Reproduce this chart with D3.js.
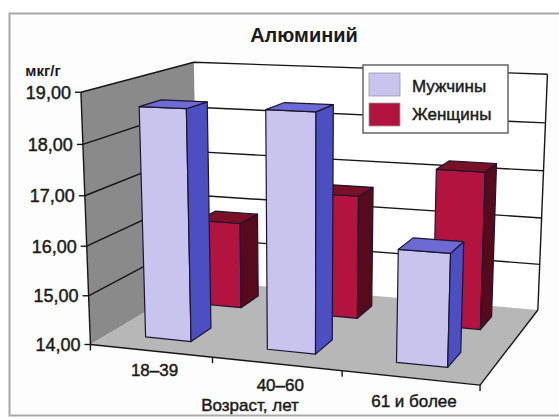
<!DOCTYPE html>
<html>
<head>
<meta charset="utf-8">
<script src="https://cdn.jsdelivr.net/npm/d3@7"></script>
<style>
  html, body { margin: 0; padding: 0; background: #ffffff; }
  svg { display: block; }
  text { font-family: "Liberation Sans", Arial, sans-serif; fill: #1a1a1a; }
  text.lbl { stroke: #1a1a1a; stroke-width: 0.45px; }
</style>
</head>
<body>
<svg id="chart" width="559" height="419"></svg>
<script>
// ---- data ----
const categories = ["18–39", "40–60", "61 и более"];
const seriesNames = ["Мужчины", "Женщины"];
const menValues = [18.65, 18.7, 16.2];
const womenValues = [15.85, 16.6, 17.25];
const valueTicks = [14, 15, 16, 17, 18, 19];
const tickLabels = ["14,00", "15,00", "16,00", "17,00", "18,00", "19,00"];
const titleText = "Алюминий";
const unitText = "мкг/г";
const axisTitleText = "Возраст, лет";

// ---- colours ----
const palette = {
  "Мужчины": { front: "#c9c4ee", side: "#4b4fc2", top: "#6d6bd3" },
  "Женщины": { front: "#b3133f", side: "#560a1c", top: "#7a1026" }
};

// ---- 3D box -> screen perspective ----
// box coordinates: u along categories, v along values, w along depth (0 = front)
const calib = [
  [0, 0, 0, 92, 342], [0, 1, 0, 80, 93], [1, 0, 0, 482, 388],
  [0, 0, 1, 197, 285], [0, 1, 1, 195, 60], [1, 0, 1, 538, 306],
  [1, 1, 1, 547, 76], [1 / 3, 0, 0, 212, 356], [2 / 3, 0, 0, 340, 371]
];

function solveProjection(pts) {
  const A = [], b = [];
  pts.forEach(([X, Y, Z, x, y]) => {
    A.push([X, Y, Z, 1, 0, 0, 0, 0, -x * X, -x * Y, -x * Z]); b.push(x);
    A.push([0, 0, 0, 0, X, Y, Z, 1, -y * X, -y * Y, -y * Z]); b.push(y);
  });
  const n = 11;
  const M = Array.from({ length: n }, () => new Array(n + 1).fill(0));
  for (let r = 0; r < A.length; r++) {
    for (let i = 0; i < n; i++) {
      for (let j = 0; j < n; j++) M[i][j] += A[r][i] * A[r][j];
      M[i][n] += A[r][i] * b[r];
    }
  }
  for (let c = 0; c < n; c++) {
    let piv = c;
    for (let r = c + 1; r < n; r++) if (Math.abs(M[r][c]) > Math.abs(M[piv][c])) piv = r;
    [M[c], M[piv]] = [M[piv], M[c]];
    for (let r = 0; r < n; r++) {
      if (r === c) continue;
      const f = M[r][c] / M[c][c];
      for (let k = c; k <= n; k++) M[r][k] -= f * M[c][k];
    }
  }
  return M.map((row, i) => row[n] / row[i]);
}
const P = solveProjection(calib);
function project(u, v, w) {
  const d = P[8] * u + P[9] * v + P[10] * w + 1;
  return [(P[0] * u + P[1] * v + P[2] * w + P[3]) / d,
          (P[4] * u + P[5] * v + P[6] * w + P[7]) / d];
}

// ---- scales ----
const gap = 0.62;
const xBand = d3.scaleBand().domain(categories).range([0, 1])
  .paddingInner(gap).paddingOuter(gap / 2);
const xStep = d3.scaleBand().domain(categories).range([0, 1]);
const zBand = d3.scaleBand().domain(seriesNames).range([0, 1])
  .paddingInner(gap).paddingOuter(gap / 2);
const yScale = d3.scaleLinear().domain([14, 19]).range([0, 1]);

const svg = d3.select("#chart");
const line = d3.line();
const poly = pts => line(pts.map(p => project(...p))) + "Z";

// chart frame
svg.append("rect").attr("x", 9.5).attr("y", 13.5).attr("width", 560).attr("height", 402)
  .attr("fill", "#fdfdfd").attr("stroke", "#a8a8a8").attr("stroke-width", 2);

// walls and floor
const g = svg.append("g");
g.append("path").attr("d", poly([[0, 0, 1], [1, 0, 1], [1, 1, 1], [0, 1, 1]]))
  .attr("fill", "#ffffff");
g.append("path").attr("d", poly([[0, 0, 0], [0, 1, 0], [0, 1, 1], [0, 0, 1]]))
  .attr("fill", "#8a8a8a");
g.append("path").attr("d", poly([[0, 0, 0], [1, 0, 0], [1, 0, 1], [0, 0, 1]]))
  .attr("fill", "#b7b7b7");

// gridlines on left and back walls
valueTicks.slice(1).forEach(t => {
  const v = yScale(t);
  g.append("path").attr("d", line([project(0, v, 0), project(0, v, 1), project(1, v, 1)]))
    .attr("fill", "none").attr("stroke", "#161616").attr("stroke-width", 1.4);
});

// box edges
[[[0, 0, 0], [0, 1, 0]], [[0, 0, 0], [1, 0, 0]], [[1, 0, 0], [1, 0, 1]],
 [[1, 0, 1], [1, 1, 1]]].forEach(([a, b]) => {
  g.append("path").attr("d", line([project(...a), project(...b)]))
    .attr("stroke", "#161616").attr("stroke-width", 1.4);
});

// value axis ticks and labels
valueTicks.forEach((t, i) => {
  const [x, y] = project(0, yScale(t), 0);
  g.append("line").attr("x1", x - 6).attr("x2", x).attr("y1", y).attr("y2", y)
    .attr("stroke", "#161616").attr("stroke-width", 1.4);
  g.append("text").attr("class", "lbl").attr("x", x - 10).attr("y", y).attr("dy", "0.36em")
    .attr("text-anchor", "end").attr("font-size", 18).text(tickLabels[i]);
});

// category ticks
d3.range(categories.length + 1).forEach(i => {
  const [x, y] = project(i / categories.length, 0, 0);
  g.append("line").attr("x1", x).attr("x2", x).attr("y1", y).attr("y2", y + 6)
    .attr("stroke", "#161616").attr("stroke-width", 1.4);
});

// category labels
categories.forEach((c, i) => {
  const [x, y] = project(xStep(c) + xStep.bandwidth() / 2, 0, 0);
  g.append("text").attr("class", "lbl").attr("x", x + 4).attr("y", y + 25 + 2 * i)
    .attr("text-anchor", "middle").attr("font-size", 17).text(c);
});

// bars: back row first, left to right
const rows = [
  { name: "Женщины", values: womenValues },
  { name: "Мужчины", values: menValues }
];
const bars = g.append("g");
rows.forEach(row => {
  const col = palette[row.name];
  const w0 = zBand(row.name), w1 = w0 + zBand.bandwidth();
  categories.forEach((c, i) => {
    const u0 = xBand(c), u1 = u0 + xBand.bandwidth();
    const v0 = 0, v1 = yScale(row.values[i]);
    const faces = [
      { pts: [[u0, v0, w0], [u1, v0, w0], [u1, v1, w0], [u0, v1, w0]], fill: col.front },
      { pts: [[u1, v0, w0], [u1, v0, w1], [u1, v1, w1], [u1, v1, w0]], fill: col.side },
      { pts: [[u0, v1, w0], [u1, v1, w0], [u1, v1, w1], [u0, v1, w1]], fill: col.top }
    ];
    faces.forEach(f => bars.append("path").attr("d", poly(f.pts))
      .attr("fill", f.fill).attr("stroke", "#1c1530").attr("stroke-width", 1.2)
      .attr("stroke-linejoin", "round"));
  });
});

// titles
svg.append("text").attr("x", 304).attr("y", 42).attr("text-anchor", "middle")
  .attr("font-size", 20).attr("font-weight", "bold").text(titleText);
svg.append("text").attr("x", 43).attr("y", 76).attr("text-anchor", "middle")
  .attr("font-size", 15).attr("font-weight", "bold").text(unitText);
svg.append("text").attr("class", "lbl").attr("x", 250).attr("y", 411).attr("text-anchor", "middle")
  .attr("font-size", 17).text(axisTitleText);

// legend
const lg = svg.append("g").attr("transform", "translate(363,65)");
lg.append("rect").attr("width", 145).attr("height", 68)
  .attr("fill", "#ffffff").attr("stroke", "#5a5a5a").attr("stroke-width", 1.4);
seriesNames.forEach((s, i) => {
  lg.append("rect").attr("x", 6).attr("y", 8 + i * 30).attr("width", 31).attr("height", 23)
    .attr("fill", palette[s].front).attr("stroke", "#9a9a9a").attr("stroke-width", 0.8);
  lg.append("text").attr("class", "lbl").attr("x", 49).attr("y", 27 + i * 28)
    .attr("font-size", 17).text(s);
});
</script>
</body>
</html>
